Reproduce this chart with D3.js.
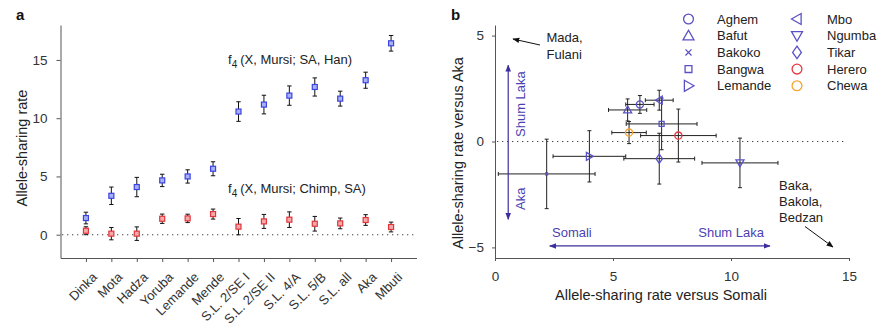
<!DOCTYPE html>
<html><head><meta charset="utf-8">
<script src="https://cdn.jsdelivr.net/npm/d3@7"></script>
<style>
html,body{margin:0;padding:0;background:#fff;}
svg{display:block;font-family:"Liberation Sans",Arial,Helvetica,sans-serif;}
</style></head><body>
<svg id="chart" width="879" height="326"></svg>
<script>
// ---------- Panel a data ----------
const categories = ["Dinka","Mota","Hadza","Yoruba","Lemande","Mende","S.L. 2/SE I","S.L. 2/SE II","S.L. 4/A","S.L. 5/B","S.L. all","Aka","Mbuti"];
const hanValues   = [1.43, 3.34, 4.09, 4.66, 5.00, 5.66, 10.57, 11.17, 11.94, 12.68, 11.68, 13.26, 16.43];
const hanErrors   = [0.50, 0.75, 0.83, 0.53, 0.57, 0.60, 0.84, 0.80, 0.83, 0.78, 0.64, 0.69, 0.67];
const chimpValues = [0.34, 0.09, 0.09, 1.37, 1.40, 1.77, 0.69, 1.14, 1.29, 0.94, 0.97, 1.26, 0.66];
const chimpErrors = [0.34, 0.53, 0.58, 0.40, 0.36, 0.43, 0.70, 0.60, 0.67, 0.63, 0.46, 0.46, 0.42];
const yTicksA = [0, 5, 10, 15];

// ---------- Panel b data ----------
const populations = ["Aghem","Bafut","Bakoko","Bangwa","Lemande","Mbo","Ngumba","Tikar","Herero","Chewa"];
const somaliRate  = [6.14, 5.62, 2.19, 7.06, 4.00, 6.96, 10.38, 6.96, 7.77, 5.68];
const somaliErr   = [0.60, 0.81, 2.05, 1.50, 1.54, 0.59, 1.61, 1.50, 1.60, 0.73];
const akaRate     = [1.75, 1.49, -1.53, 0.83, -0.70, 1.95, -1.01, -0.81, 0.28, 0.42];
const akaErr      = [0.42, 0.52, 1.64, 1.22, 1.21, 0.47, 1.17, 1.20, 1.25, 0.52];
const xTicksB = [0, 5, 10, 15];
const yTicksB = [-5, 0, 5];

// ---------- styles ----------
const PURPLE = "#5a52c4", ARROW = "#3b2e9e", ATEXT = "#4b3fb3";
const shapeOf = {Aghem:"circle",Bafut:"triUp",Bakoko:"cross",Bangwa:"square",Lemande:"triRight",
  Mbo:"triLeft",Ngumba:"triDown",Tikar:"diamond",Herero:"circle",Chewa:"circle"};
const colorOf = {Herero:"#e8363d", Chewa:"#f5a431"};
const col = p => colorOf[p] || PURPLE;

function symPath(shape, s) {
  switch (shape) {
    case "circle": return d3.symbol(d3.symbolCircle, Math.PI*s*s*0.8)();
    case "triUp": return `M0,${-s}L${s},${s*0.75}L${-s},${s*0.75}Z`;
    case "triDown": return `M0,${s}L${s},${-s*0.75}L${-s},${-s*0.75}Z`;
    case "triRight": return `M${s},0L${-s*0.75},${-s}L${-s*0.75},${s}Z`;
    case "triLeft": return `M${-s},0L${s*0.75},${-s}L${s*0.75},${s}Z`;
    case "square": return `M${-s*0.62},${-s*0.62}h${s*1.24}v${s*1.24}h${-s*1.24}Z`;
    case "diamond": return `M0,${-s*1.15}L${s*0.8},0L0,${s*1.15}L${-s*0.8},0Z`;
    case "cross": return `M${-s*0.55},${-s*0.55}L${s*0.55},${s*0.55}M${s*0.55},${-s*0.55}L${-s*0.55},${s*0.55}`;
  }
}

const svg = d3.select("#chart");
const defs = svg.append("defs");
function mk(id, color){
  defs.append("marker").attr("id",id).attr("viewBox","0 0 10 10").attr("refX",9).attr("refY",5)
    .attr("markerWidth",7).attr("markerHeight",7).attr("orient","auto-start-reverse")
    .attr("markerUnits","userSpaceOnUse")
    .append("path").attr("d","M0,1L10,5L0,9Z").attr("fill",color);
}
mk("arP", ARROW); mk("arK", "#111");

function styleAxis(g){
  g.select(".domain").attr("stroke","#555");
  g.selectAll(".tick line").attr("stroke","#555");
  g.selectAll(".tick text").attr("fill","#333").style("font-size","13.5px").style("font-family","Liberation Sans, Arial, sans-serif");
}

// ================= Panel a =================
const xa = d3.scalePoint().domain(categories).range([60.5, 416.5]).padding(1);
const ya = d3.scaleLinear().domain([-2, 18]).range([258, 25]);

svg.append("text").attr("x",16).attr("y",19.5).text("a")
  .style("font-weight","bold").style("font-size","15px").attr("fill","#111");

svg.append("line").attr("x1",62).attr("x2",414).attr("y1",ya(0)).attr("y2",ya(0))
  .attr("stroke","#444").attr("stroke-width",1.1).attr("stroke-dasharray","1.3 3.7");

const gya = svg.append("g").attr("transform","translate(60.5,0)")
  .call(d3.axisLeft(ya).tickValues(yTicksA).tickSize(4).tickSizeOuter(0).tickPadding(9));
styleAxis(gya);
const gxa = svg.append("g").attr("transform","translate(0,258)")
  .call(d3.axisBottom(xa).tickSize(4).tickSizeOuter(0));
styleAxis(gxa);
gxa.selectAll(".tick text").attr("y",0).attr("dy",0).style("font-size","13px")
  .attr("text-anchor","end").attr("transform","translate(11.5,20) rotate(-45)");

svg.append("text").attr("transform","translate(27,148) rotate(-90)").attr("text-anchor","middle")
  .style("font-size","14.5px").attr("fill","#222").text("Allele-sharing rate");

function seriesA(vals, errs, stroke, fill){
  const g = svg.append("g");
  categories.forEach((c,i)=>{
    const x = xa(c), y0 = ya(vals[i]-errs[i]), y1 = ya(vals[i]+errs[i]);
    g.append("line").attr("x1",x).attr("x2",x).attr("y1",y0).attr("y2",y1).attr("stroke","#111").attr("stroke-width",1);
    [y0,y1].forEach(yy=>g.append("line").attr("x1",x-2.2).attr("x2",x+2.2).attr("y1",yy).attr("y2",yy).attr("stroke","#111").attr("stroke-width",1));
  });
  categories.forEach((c,i)=>{
    g.append("rect").attr("x",xa(c)-2.5).attr("y",ya(vals[i])-2.5).attr("width",5).attr("height",5)
      .attr("fill",fill).attr("stroke",stroke).attr("stroke-width",1.2);
  });
}
seriesA(hanValues, hanErrors, "#3a44e0", "#a9b1f4");
seriesA(chimpValues, chimpErrors, "#e2353b", "#f5aaaa");

function f4Label(x, y, rest){
  const t = svg.append("text").attr("x",x).attr("y",y).style("font-size","13px").attr("fill","#222");
  t.append("tspan").text("f");
  t.append("tspan").attr("dy",3.5).style("font-size","10px").text("4");
  t.append("tspan").attr("dy",-3.5).attr("dx",3).text(rest);
}
f4Label(228, 64, "(X, Mursi; SA, Han)");
f4Label(228, 193, "(X, Mursi; Chimp, SA)");

// ================= Panel b =================
const xb = d3.scaleLinear().domain([0, 15]).range([495, 849]);
const yb = d3.scaleLinear().domain([-5.5, 5.5]).range([258, 25]);

svg.append("text").attr("x",451).attr("y",19.5).text("b")
  .style("font-weight","bold").style("font-size","15px").attr("fill","#111");

svg.append("line").attr("x1",xb(0)+2).attr("x2",xb(14.85)).attr("y1",yb(0)).attr("y2",yb(0))
  .attr("stroke","#444").attr("stroke-width",1.1).attr("stroke-dasharray","1.3 3.7");

const gyb = svg.append("g").attr("transform","translate(495,0)")
  .call(d3.axisLeft(yb).tickValues(yTicksB).tickSize(3).tickSizeOuter(0).tickPadding(8));
styleAxis(gyb);
const gxb = svg.append("g").attr("transform","translate(0,258)")
  .call(d3.axisBottom(xb).tickValues(xTicksB).tickSize(3).tickSizeOuter(0).tickPadding(10));
styleAxis(gxb);

svg.append("text").attr("transform","translate(463,153) rotate(-90)").attr("text-anchor","middle")
  .style("font-size","14.5px").attr("fill","#222").text("Allele-sharing rate versus Aka");
svg.append("text").attr("x",661).attr("y",300).attr("text-anchor","middle")
  .style("font-size","14.5px").attr("fill","#222").text("Allele-sharing rate versus Somali");

// error bars
const gb = svg.append("g");
populations.forEach((p,i)=>{
  const x = xb(somaliRate[i]), y = yb(akaRate[i]);
  const xl = xb(somaliRate[i]-somaliErr[i]), xr = xb(somaliRate[i]+somaliErr[i]);
  const yt = yb(akaRate[i]+akaErr[i]), ybm = yb(akaRate[i]-akaErr[i]);
  const st = "#222";
  gb.append("line").attr("x1",xl).attr("x2",xr).attr("y1",y).attr("y2",y).attr("stroke",st).attr("stroke-width",1);
  gb.append("line").attr("x1",x).attr("x2",x).attr("y1",yt).attr("y2",ybm).attr("stroke",st).attr("stroke-width",1);
  [xl,xr].forEach(xx=>gb.append("line").attr("x1",xx).attr("x2",xx).attr("y1",y-2).attr("y2",y+2).attr("stroke",st));
  [yt,ybm].forEach(yy=>gb.append("line").attr("x1",x-2).attr("x2",x+2).attr("y1",yy).attr("y2",yy).attr("stroke",st));
});
populations.forEach((p,i)=>{
  gb.append("path").attr("d",symPath(shapeOf[p], shapeOf[p]==="cross"?2.6:4))
    .attr("transform",`translate(${xb(somaliRate[i])},${yb(akaRate[i])})`)
    .attr("fill","none").attr("stroke",col(p)).attr("stroke-width",1.3);
});

// legend
populations.forEach((p,i)=>{
  const c = Math.floor(i/5), r = i%5;
  const sx = c===0 ? 688.5 : 797, tx = c===0 ? 717 : 827, yy = 19 + r*16.7;
  svg.append("path").attr("d",symPath(shapeOf[p], 5.5))
    .attr("transform",`translate(${sx},${yy})`).attr("fill","none").attr("stroke",col(p)).attr("stroke-width",1.3);
  svg.append("text").attr("x",tx).attr("y",yy+4.6).style("font-size","13px").attr("fill","#222").text(p);
});

// direction arrows
svg.append("line").attr("x1",xb(0.56)).attr("x2",xb(0.56)).attr("y1",yb(-3.67)).attr("y2",yb(3.6))
  .attr("stroke",ARROW).attr("stroke-width",1.2)
  .attr("marker-start","url(#arP)").attr("marker-end","url(#arP)");
svg.append("line").attr("x1",xb(2.32)).attr("x2",xb(11.65)).attr("y1",yb(-4.93)).attr("y2",yb(-4.93))
  .attr("stroke",ARROW).attr("stroke-width",1.2)
  .attr("marker-start","url(#arP)").attr("marker-end","url(#arP)");
svg.append("text").attr("transform","translate(525,137) rotate(-90)").style("font-size","13px").attr("fill",ATEXT).text("Shum Laka");
svg.append("text").attr("transform","translate(525,210) rotate(-90)").style("font-size","13px").attr("fill",ATEXT).text("Aka");
svg.append("text").attr("x",552).attr("y",237).style("font-size","13px").attr("fill",ATEXT).text("Somali");
svg.append("text").attr("x",764).attr("y",237).attr("text-anchor","end").style("font-size","13px").attr("fill",ATEXT).text("Shum Laka");

// annotation arrows
svg.append("line").attr("x1",540).attr("y1",45).attr("x2",513).attr("y2",39)
  .attr("stroke","#111").attr("stroke-width",1).attr("marker-end","url(#arK)");
svg.append("text").attr("x",546.5).attr("y",41.5).style("font-size","13px").attr("fill","#222").text("Mada,");
svg.append("text").attr("x",546.5).attr("y",58.5).style("font-size","13px").attr("fill","#222").text("Fulani");
svg.append("line").attr("x1",805).attr("y1",226.5).attr("x2",833).attr("y2",247)
  .attr("stroke","#111").attr("stroke-width",1).attr("marker-end","url(#arK)");
["Baka,","Bakola,","Bedzan"].forEach((t,k)=>svg.append("text").attr("x",779).attr("y",190+k*16)
  .style("font-size","13px").attr("fill","#222").text(t));
</script>
</body></html>
